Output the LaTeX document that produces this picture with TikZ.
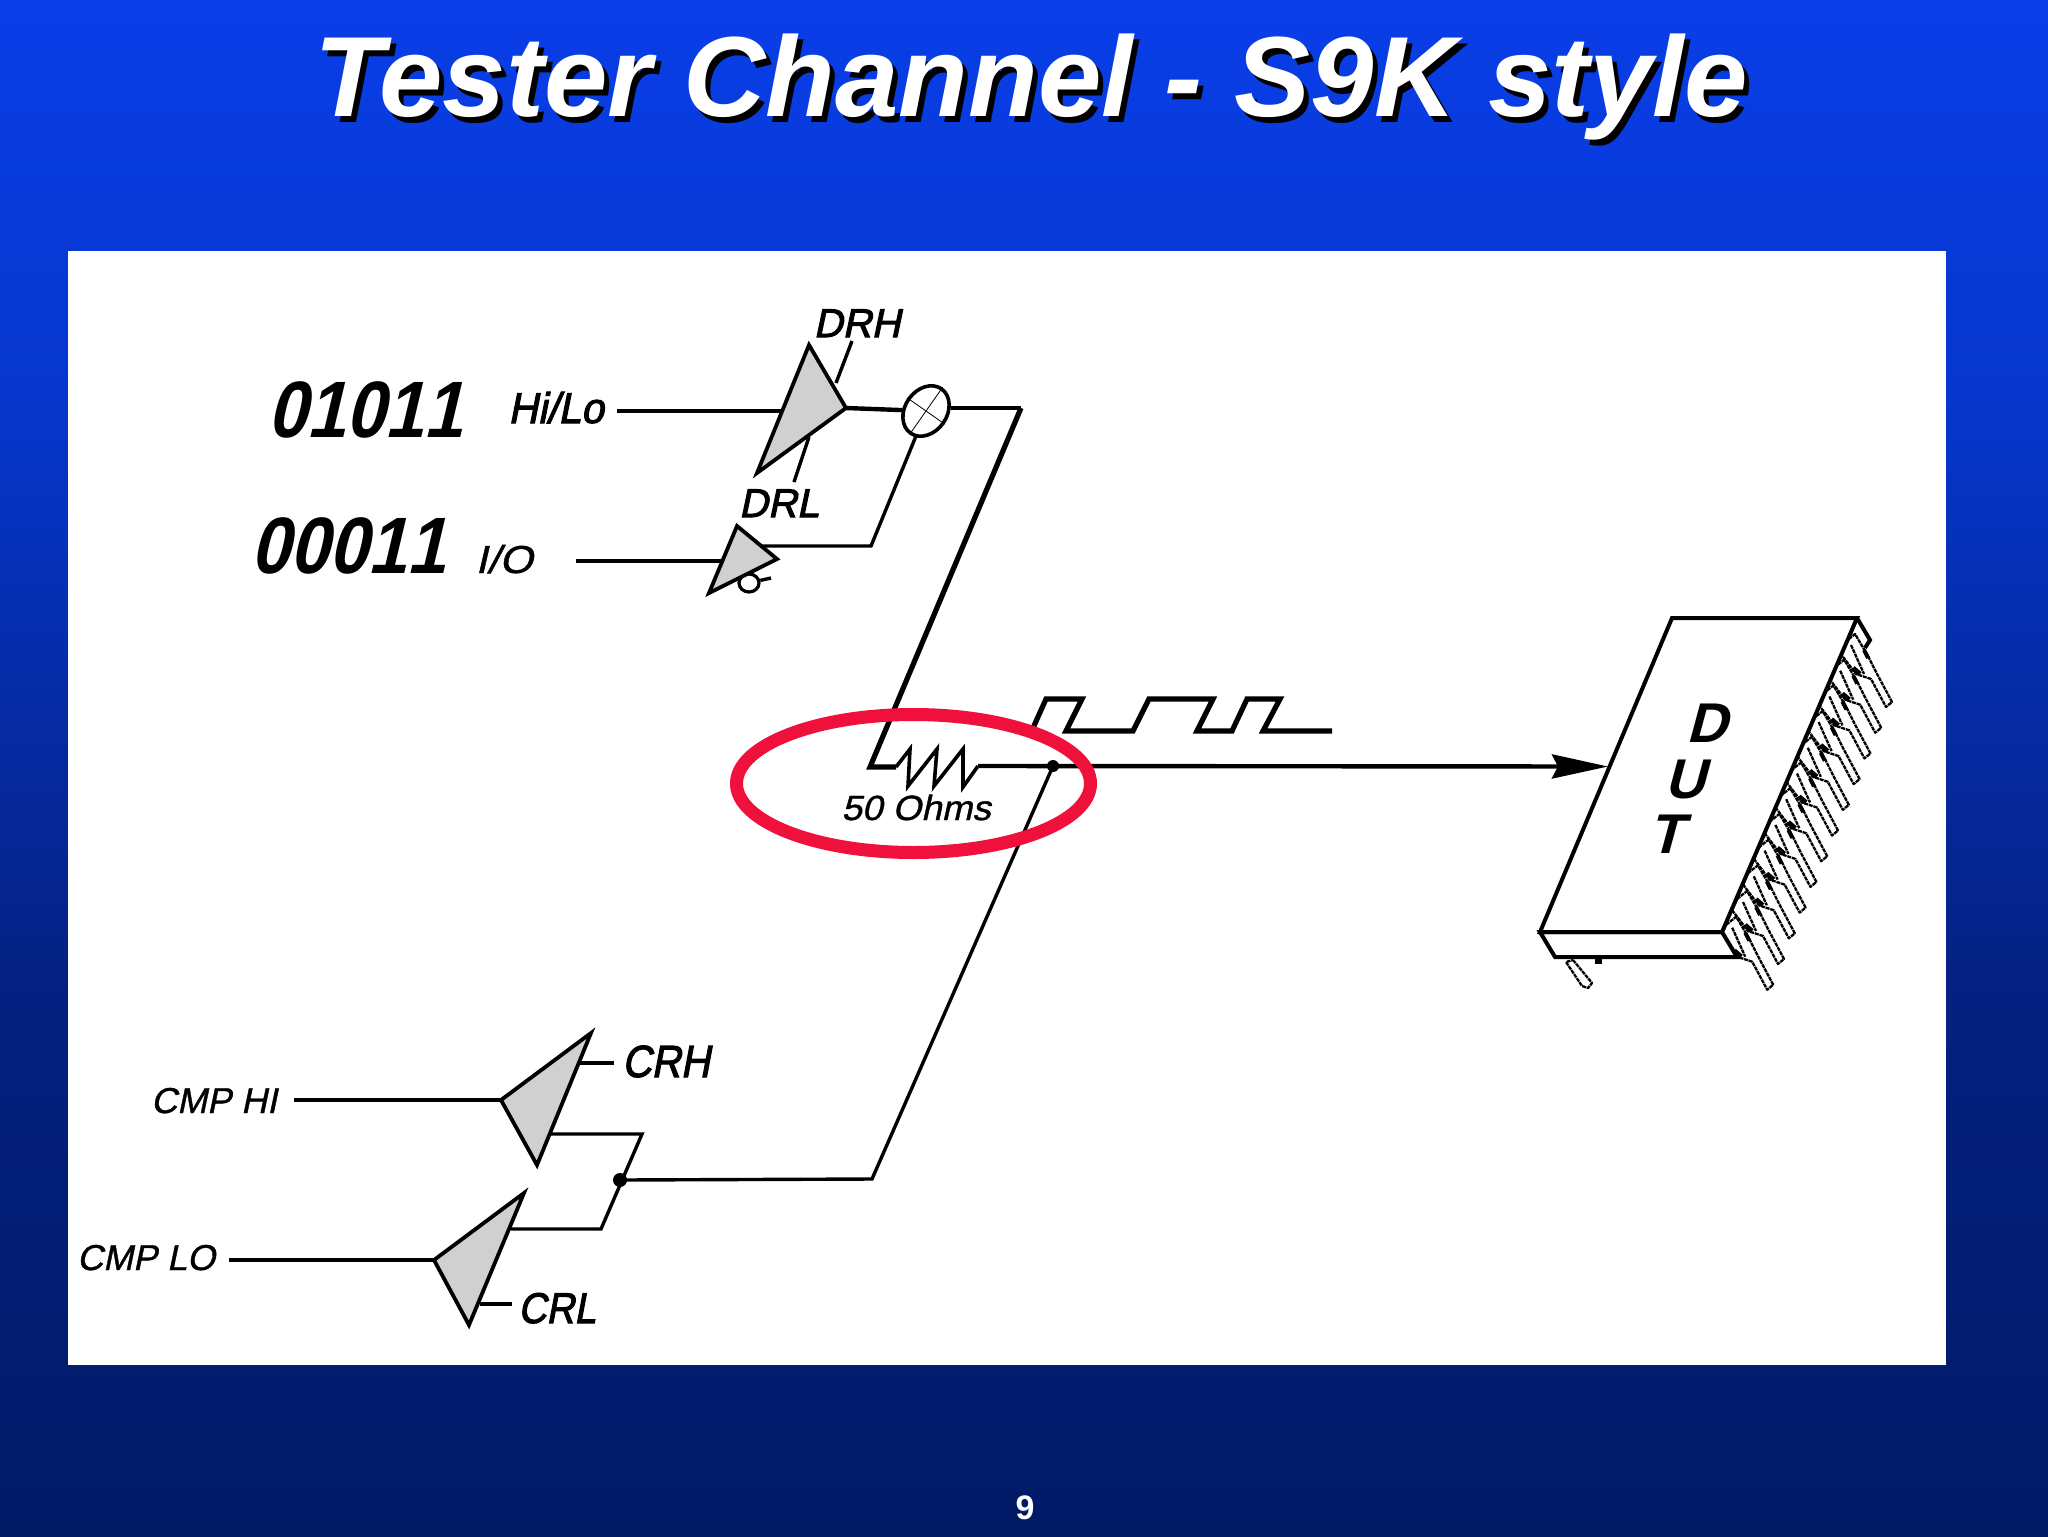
\documentclass[tikz,border=0pt]{standalone}
\usepackage{fontspec}
\setmainfont{Liberation Sans}
\newfontfamily\medit[FakeSlant=0.21,FakeBold=1,Kerning=Off]{Liberation Sans}
\newfontfamily\semit[FakeSlant=0.21,FakeBold=2.5,Kerning=Off]{Liberation Sans}
\newfontfamily\heavyit[FakeSlant=0.27,Kerning=Off]{Liberation Sans}
\usetikzlibrary{shapes.geometric,arrows.meta}
\newcommand\lblsize[1]{\fontsize{#1}{#1}\selectfont}
\definecolor{bgtop}{HTML}{0A3EE8}
\definecolor{bgupper}{HTML}{0636CC}
\definecolor{bglower}{HTML}{052080}
\definecolor{bgbot}{HTML}{001A66}
\definecolor{ringred}{HTML}{F0103C}
\definecolor{gategray}{HTML}{D0D0D0}
\pgfdeclareverticalshading{slidebg}{100bp}{color(0bp)=(bgbot); color(25bp)=(bgbot); color(42.4bp)=(bglower); color(62bp)=(bgupper); color(75bp)=(bgtop); color(100bp)=(bgtop)}
\tikzset{
  wire/.style={line width=2.2pt,line join=miter},
  heavywire/.style={line width=2.6pt,line join=miter},
  thinwire/.style={line width=1.7pt,line join=miter},
  gate/.style={draw=black,fill=gategray,line width=1.9pt,line join=miter,miter limit=10},
  lbl/.style={inner sep=0pt,outer sep=0pt,anchor=base,transform shape,font=\medit},
  semilbl/.style={inner sep=0pt,outer sep=0pt,anchor=base,transform shape,font=\semit},
  boldlbl/.style={inner sep=0pt,outer sep=0pt,anchor=base,transform shape,font=\bfseries\itshape},
  heavylbl/.style={inner sep=0pt,outer sep=0pt,anchor=base,transform shape,font=\heavyit\bfseries},
  pinline/.style={line width=1.15pt,line join=round,fill=white,dash pattern=on 2pt off .4pt},
}
\begin{document}
\begin{tikzpicture}[x=.5pt,y=-.5pt]
\useasboundingbox (0,0) rectangle (2048,1536);
\shade[shading=slidebg] (0,0) rectangle (2048,1536);
\fill[white] (68,250.5) rectangle (1946,1365);
% title and page number
\node[boldlbl,text=black] at (1036,122) {\lblsize{57}Tester Channel - S9K style};
\node[boldlbl,text=white] (title) at (1031,117) {\lblsize{57}Tester Channel - S9K style};
\node[inner sep=0pt,anchor=base,text=white,font=\bfseries] (pageno) at (1025,1519) {\lblsize{17}9};
% labels
\node[heavylbl,xscale=.88] (pat1) at (365,437) {\lblsize{40}01011};
\node[heavylbl,xscale=.88] (pat2) at (348,573) {\lblsize{40}00011};
\node[semilbl,xscale=.95] (hilo) at (556,423) {\lblsize{21.5}Hi/Lo};
\node[lbl,xscale=1.1] (io) at (504,573) {\lblsize{19.5}I/O};
\node[semilbl] (drh) at (857,337) {\lblsize{20}DRH};
\node[semilbl] (drl) at (779,517) {\lblsize{20}DRL};
\node[lbl,xscale=1.05] (ohm) at (916,820) {\lblsize{17.5}50 Ohms};
\node[lbl] (cmphi) at (214,1113) {\lblsize{18}CMP HI};
\node[lbl] (cmplo) at (146,1270) {\lblsize{18}CMP LO};
\node[semilbl,xscale=.9] (crh) at (666,1077) {\lblsize{22.5}CRH};
\node[semilbl,xscale=.9] (crl) at (557,1323) {\lblsize{21.5}CRL};
% named points
\coordinate (hiloin) at (617,411);
\coordinate (drvin) at (782,411);
\coordinate (drvtop) at (809,345);
\coordinate (drvtip) at (846,408);
\coordinate (drvbot) at (757,473);
\coordinate (drhA) at (852,341);
\coordinate (drhB) at (836,383);
\coordinate (drlA) at (809,437);
\coordinate (drlB) at (794,482);
\coordinate (ioin) at (576,561);
\coordinate (enin) at (724,561);
\coordinate (entop) at (737,526);
\coordinate (entip) at (777,559);
\coordinate (enbot) at (709,593);
\coordinate (enout) at (761,546);
\coordinate (enbend) at (871,546);
\coordinate (xorlow) at (916,436);
\coordinate (xorright) at (951,408);
\coordinate (bendA) at (1021,408);
\coordinate (corner) at (870,767);
\coordinate (resA) at (896,767);
\coordinate (resB) at (978,766);
\coordinate (junc) at (1053,766);
\coordinate (bendB) at (872,1179);
\coordinate (cmpjunc) at (620,1180);
\coordinate (chleft) at (501,1100);
\coordinate (chtop) at (591,1033);
\coordinate (chbot) at (537,1165);
\coordinate (chin) at (294,1100);
\coordinate (chout) at (549,1134);
\coordinate (chbend) at (642,1134);
\coordinate (clleft) at (434,1260);
\coordinate (cltop) at (524,1193);
\coordinate (clbot) at (469,1325);
\coordinate (clin) at (229,1260);
\coordinate (clout) at (511,1229);
\coordinate (clbend) at (601,1229);
\coordinate (crhA) at (580,1063);
\coordinate (crhB) at (614,1063);
\coordinate (crlA) at (480,1304);
\coordinate (crlB) at (512,1304);
% driver section
\draw[wire] (hiloin) -- (drvin);
\draw[thinwire] (drhA) -- (drhB);
\draw[thinwire] (drlA) -- (drlB);
\draw[gate] (drvtop) -- (drvtip) -- (drvbot) -- cycle;
\node[draw,ellipse,line width=1.8pt,fill=white,rotate=55,minimum width=27pt,minimum height=21pt,inner sep=0pt] (xor) at (926,411) {};
\draw[line width=.4pt] (xor.east) -- (xor.west);
\draw[line width=.4pt] (xor.north) -- (xor.south);
\draw[wire] (drvtip) -- (xor);
\draw[wire] (xorright) -- (bendA);
\draw[heavywire] (bendA) -- (corner) -- (resA);
\draw[wire] (ioin) -- (enin);
\node[draw,ellipse,line width=1.6pt,fill=white,minimum width=10pt,minimum height=9pt,inner sep=0pt] (bub) at (749,583) {};
\coordinate (bubstub) at (771,578);
\draw[thinwire] (bub) -- (bubstub);
\draw[gate] (entop) -- (entip) -- (enbot) -- cycle;
\draw[thinwire] (enout) -- (enbend) -- (xorlow);
% resistor
\draw[line width=1.8pt,line join=miter] (resA) -- (910,749) -- (908,786) -- (937,749) -- (934,786) -- (963,749) -- (963,787) -- (resB);
% comparators
\draw[thinwire] (chin) -- (chleft);
\draw[thinwire] (clin) -- (clleft);
\draw[thinwire] (crhA) -- (crhB);
\draw[thinwire] (crlA) -- (crlB);
\draw[gate] (chleft) -- (chtop) -- (chbot) -- cycle;
\draw[gate] (clleft) -- (cltop) -- (clbot) -- cycle;
\draw[thinwire] (chout) -- (chbend) -- (clbend) -- (clout);
\draw[thinwire] (cmpjunc) -- (bendB) -- (junc);
\fill (cmpjunc) circle (7);
\fill (junc) circle (6);
% pulse train
\draw[line width=2.6pt,line join=miter] (1033,728) -- (1046,699) -- (1082,699) -- (1066,731) -- (1133,731) -- (1149,699) -- (1213,699) -- (1197,731) -- (1232,731) -- (1247,699) -- (1280,699) -- (1263,731) -- (1332,731);
% DUT pins
\foreach \i in {0,...,11}{
  \begin{scope}[shift={({-10.8*\i},{25.7*\i})}]
    \draw[pinline] (1845,642) -- (1855,634) -- (1868,656) -- (1876,672) -- (1892,702) -- (1886,707) -- (1871,679) -- (1862,676) -- (1856,674) -- (1840,653) -- cycle;
    \draw[line width=1.15pt,dash pattern=on 2pt off .4pt] (1851,645) -- (1864,674);
    \draw[line width=2.4pt] (1853,668) -- (1860,674);
    \draw[line width=2pt] (1864,650) -- (1868,658);
  \end{scope}
}
% DUT body
\coordinate (tl) at (1672,618);
\coordinate (tr) at (1857,618);
\coordinate (bl) at (1540,932);
\coordinate (br) at (1722,932);
\coordinate (fl) at (1555,957);
\coordinate (fr) at (1737,957);
\coordinate (lipr) at (1870,640);
\coordinate (liprb) at (1865,648);
\draw[pinline] (1573,960) -- (1592,983) -- (1588,988) -- (1582,986) -- (1566,962) -- cycle;
\fill (1595,958) rectangle (1602,964);
\draw[line width=2pt,fill=white,line join=miter] (bl) -- (fl) -- (fr) -- (br) -- cycle;
\draw[line width=2pt,fill=white,line join=miter] (tl) -- (tr) -- (br) -- (bl) -- cycle;
\draw[line width=2pt,line join=miter] (tr) -- (lipr) -- (liprb);
\node[heavylbl] (dutd) at (1707,742) {\lblsize{28}D};
\node[heavylbl] (dutu) at (1685,798) {\lblsize{28}U};
\node[heavylbl] (dutt) at (1666,853) {\lblsize{28}T};
\coordinate (dutin) at (1608,766.5);
\draw[wire,-{Stealth[length=28pt,width=12pt,inset=3pt]}] (resB) -- (dutin);
% highlight ring
\draw[ringred,line width=6.5pt] (913.5,783.5) ellipse [x radius=177,y radius=69];
\end{tikzpicture}
\end{document}
